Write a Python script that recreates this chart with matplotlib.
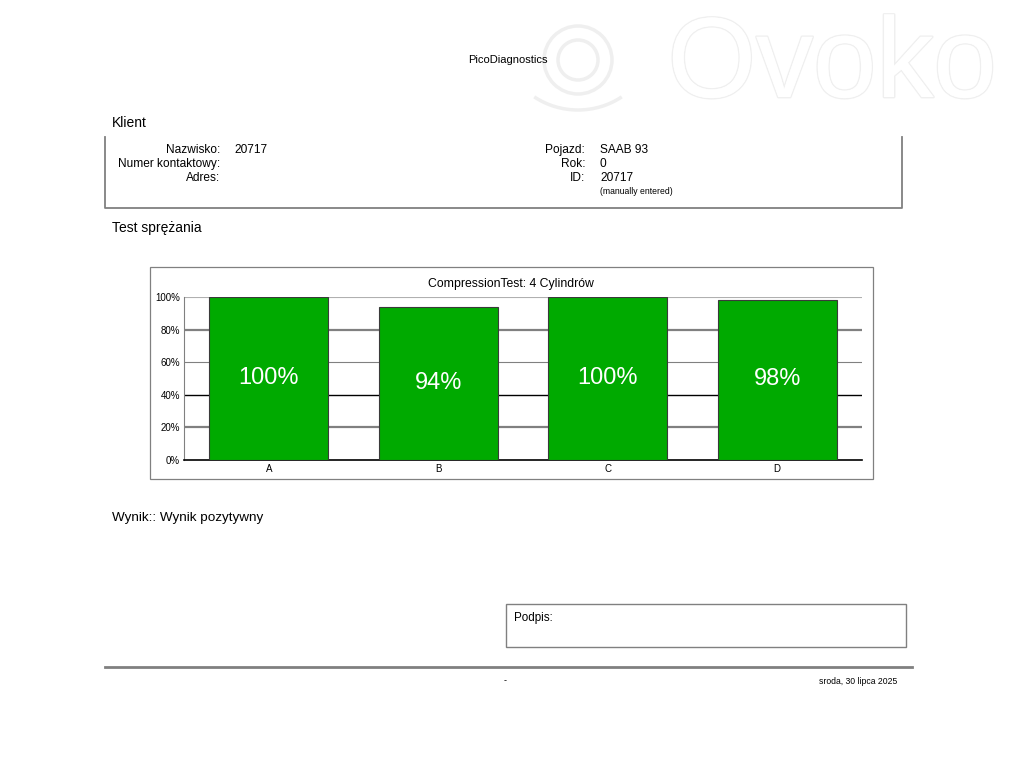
import matplotlib
matplotlib.use("Agg")
import matplotlib.pyplot as plt
import matplotlib.patheffects as pe
from matplotlib.patches import Rectangle, Ellipse, Arc
from matplotlib.lines import Line2D

plt.rcParams['font.family'] = ['Liberation Sans', 'DejaVu Sans']

# data
cylinders = ["A", "B", "C", "D"]
compression = [100, 94, 100, 98]
yticks = [0, 20, 40, 60, 80, 100]
ytick_labels = ["0%", "20%", "40%", "60%", "80%", "100%"]

client_labels = ["Nazwisko:", "Numer kontaktowy:", "Adres:"]
client_values = ["20717", "", ""]
vehicle_labels = ["Pojazd:", "Rok:", "ID:"]
vehicle_values = ["SAAB 93", "0", "20717"]

W, H = 1024, 768
fig = plt.figure(figsize=(W / 100, H / 100), dpi=100)


def px(x, y):
    # page pixel coords -> figure fraction
    return x / W, 1 - y / H


def text(x, y, s, size=8, ha="left", **kw):
    fx, fy = px(x, y)
    fig.text(fx, fy, s, fontsize=size, ha=ha, va="center", **kw)


def line(xs, ys, color="#808080", lw=1.2):
    fig.add_artist(Line2D([x / W for x in xs], [1 - y / H for y in ys],
                          color=color, lw=lw, transform=fig.transFigure))


def box(x0, y0, x1, y1, color="#808080", lw=1.0):
    fx, fy = px(x0, y1)
    fig.add_artist(Rectangle((fx, fy), (x1 - x0) / W, (y1 - y0) / H, fill=False,
                             edgecolor=color, lw=lw, transform=fig.transFigure))


# faint watermark (logo rings + name)
wm_col = "#efefef"
for r in (34, 20):
    fig.add_artist(Ellipse(px(578, 60), 2 * r / W, 2 * r / H, fill=False,
                           edgecolor=wm_col, lw=2.5, transform=fig.transFigure))
fig.add_artist(Arc(px(578, 40), 150 / W, 140 / H, theta1=240, theta2=300,
                   edgecolor=wm_col, lw=2.5, transform=fig.transFigure))
wm = fig.text(*px(832, 68), "Ovoko", fontsize=82, ha="center", va="center",
              color="white")
wm.set_path_effects([pe.withStroke(linewidth=2.0, foreground=wm_col), pe.Normal()])

# header
text(508, 60, "PicoDiagnostics", size=8, ha="center")

# client section
text(112, 123, "Klient", size=10)
line([105, 105, 902, 902], [137, 208, 208, 137], lw=1.3)
for i, (lab, val) in enumerate(zip(client_labels, client_values)):
    y = 150 + 14 * i
    text(220, y, lab, size=8.6, ha="right")
    text(234, y, val, size=8.6)
for i, (lab, val) in enumerate(zip(vehicle_labels, vehicle_values)):
    y = 150 + 14 * i
    text(585, y, lab, size=8.6, ha="right")
    text(600, y, val, size=8.6)
text(600, 191, "(manually entered)", size=6.2)

text(112, 228, "Test sprężania", size=10)

# chart frame + title
box(150, 267, 873, 479, lw=0.9)
text(511, 284, "CompressionTest: 4 Cylindrów", size=8.8, ha="center")

ax = fig.add_axes([184 / W, 1 - 460 / H, 678 / W, 163 / H])
x = range(len(cylinders))
bars = ax.bar(x, compression, width=0.70, color="#00aa00", edgecolor="#3a3a3a",
              linewidth=0.8, zorder=3)
for b, v in zip(bars, compression):
    ax.text(b.get_x() + b.get_width() / 2, v / 2 + 0.5, f"{v}%", color="white",
            fontsize=17, ha="center", va="center", zorder=4)

grid_style = {20: ("#808080", 1.6), 40: ("black", 1.0), 60: ("#808080", 0.8),
              80: ("#808080", 1.6), 100: ("#b0b0b0", 0.8)}
for yv, (c, lw) in grid_style.items():
    ax.axhline(yv, color=c, lw=lw, zorder=1)

ax.set_xlim(-0.5, len(cylinders) - 0.5)
ax.set_ylim(0, 100)
ax.set_xticks(list(x))
ax.set_xticklabels(cylinders, fontsize=7)
ax.set_yticks(yticks)
ax.set_yticklabels(ytick_labels, fontsize=7)
ax.tick_params(length=0, pad=3)
ax.spines["top"].set_visible(False)
ax.spines["right"].set_visible(False)
ax.spines["left"].set_color("#808080")
ax.spines["bottom"].set_color("black")
ax.spines["bottom"].set_linewidth(1.2)

# result
text(112, 518, "Wynik:: Wynik pozytywny", size=9.7)

# signature box
box(506, 604, 906, 647, lw=1.0)
text(514, 618, "Podpis:", size=8.4)

# footer
line([105, 912], [667, 667], lw=2.0)
text(505, 681, "-", size=6.5, ha="center")
text(897, 681, "sroda, 30 lipca 2025", size=6.2, ha="right")

fig.savefig("out.png", dpi=100, facecolor="white")
